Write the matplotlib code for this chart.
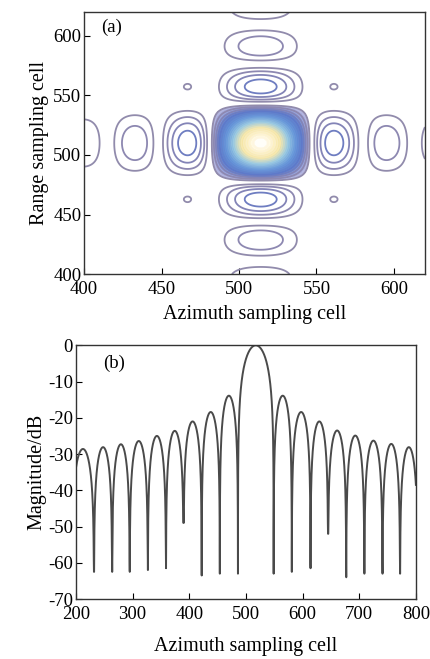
import numpy as np
import matplotlib
matplotlib.use("Agg")
import matplotlib.pyplot as plt
from matplotlib.colors import LinearSegmentedColormap

plt.rcParams["font.family"] = ["Liberation Serif", "DejaVu Serif"]
plt.rcParams["axes.unicode_minus"] = False

# ---------------------------------------------------------------------------
# (a) point target response
# ---------------------------------------------------------------------------
az_center = 514.0        # azimuth cell of the peak
rg_center = 510.0        # range cell of the peak
null_spacing = 33.0      # cells between nulls (both directions)
level_step = 0.046       # contour spacing in linear amplitude
grid_lim = (400, 620)
ticks_a = [400, 450, 500, 550, 600]

# ---------------------------------------------------------------------------
# (b) azimuth profile: null positions / depths and lobe peak levels (dB)
# ---------------------------------------------------------------------------
null_x = [193, 232, 264, 295, 327, 359, 390, 422, 454, 486,
          549, 581, 614, 645, 677, 709, 741, 772, 803]
null_db = [-34, -62.5, -62.5, -62.5, -62, -61.5, -49, -63.5, -63, -63,
           -63, -62.5, -61.5, -52, -64, -63, -63, -63, -41]
peak_db = [-28.6, -28.1, -27.3, -26.4, -25.0, -23.6, -21.0, -18.4, -13.9,
           0.0,
           -13.9, -18.4, -21.0, -23.5, -24.9, -26.3, -27.2, -28.1]
xlim_b = (200, 800)
ylim_b = (-70, 0)
ticks_bx = [200, 300, 400, 500, 600, 700, 800]
ticks_by = [0, -10, -20, -30, -40, -50, -60, -70]

LABEL_FS = 14.5
TICK_FS = 13.5

fig = plt.figure(figsize=(4.31, 6.59), dpi=100)

# ---- (a) contour ----------------------------------------------------------
ax1 = fig.add_axes([0.195, 0.584, 0.791, 0.398])
g = np.arange(grid_lim[0], grid_lim[1] + 0.25, 0.25)
X, Y = np.meshgrid(g, g)
U = (X - az_center) / null_spacing
V = (Y - rg_center) / null_spacing
Z = np.abs(np.sinc(U) * np.sinc(V))

# smooth fill inside the main lobe only
fill_cmap = LinearSegmentedColormap.from_list(
    "fill", [(0.0, "#d0cce8"), (0.1, "#a4aadc"), (0.2, "#6c8cd6"),
             (0.35, "#4a88d8"), (0.55, "#5ea6dc"), (0.68, "#b0d4cc"),
             (0.78, "#f2e08e"), (0.92, "#fff2c4"), (1.0, "#ffffff")])
main = np.ma.masked_where((np.abs(U) > 1) | (np.abs(V) > 1), Z)
ax1.contourf(X, Y, main, levels=np.linspace(level_step, 1.0, 60),
             cmap=fill_cmap, vmin=0, vmax=1)

line_cmap = LinearSegmentedColormap.from_list(
    "lines", [(0.0, "#958ea8"), (0.12, "#8a86b4"), (0.22, "#5f78c8"),
              (0.4, "#6a98da"), (0.6, "#9ccae2"), (0.78, "#f6e8b0"),
              (1.0, "#fff8e8")])
levels = np.arange(level_step, 1.0, level_step)
ax1.contour(X, Y, Z, levels=levels, cmap=line_cmap, vmin=0, vmax=1,
            linewidths=1.3)
ax1.set_xlim(grid_lim)
ax1.set_ylim(grid_lim)
ax1.set_xticks(ticks_a)
ax1.set_yticks(ticks_a)
ax1.set_xlabel("Azimuth sampling cell", fontsize=LABEL_FS, labelpad=5)
ax1.set_ylabel("Range sampling cell", fontsize=LABEL_FS, labelpad=3)
ax1.text(0.05, 0.94, "(a)", transform=ax1.transAxes, fontsize=13.5, va="center")

# ---- (b) azimuth profile ---------------------------------------------------
ax2 = fig.add_axes([0.176, 0.091, 0.789, 0.385])
xs, ys = [], []
for i, pk in enumerate(peak_db):
    a, b = null_x[i], null_x[i + 1]
    x = np.linspace(a, b, 1200)
    t = (x - a) / (b - a)
    y = pk + 20 * np.log10(np.clip(np.sin(np.pi * t), 1e-9, None))
    floor = np.where(t < 0.5, null_db[i], null_db[i + 1])
    y = np.maximum(y, floor)
    xs.append(x)
    ys.append(y)
xs = np.concatenate(xs)
ys = np.concatenate(ys)
keep = (xs >= xlim_b[0]) & (xs <= xlim_b[1])
ax2.plot(xs[keep], ys[keep], color="#4a4a4a", linewidth=1.4)
ax2.set_xlim(xlim_b)
ax2.set_ylim(ylim_b)
ax2.set_xticks(ticks_bx)
ax2.set_yticks(ticks_by)
ax2.set_xlabel("Azimuth sampling cell", fontsize=LABEL_FS, labelpad=10)
ax2.set_ylabel("Magnitude/dB", fontsize=LABEL_FS, labelpad=1)
ax2.text(0.08, 0.93, "(b)", transform=ax2.transAxes, fontsize=13.5, va="center")

for ax in (ax1, ax2):
    ax.tick_params(direction="in", length=4, labelsize=TICK_FS, pad=2,
                   top=False, right=False)
    ax.tick_params(axis="x", pad=5)
    for s in ax.spines.values():
        s.set_linewidth(1.0)
        s.set_color("#333333")

fig.savefig("out.png", dpi=100)
